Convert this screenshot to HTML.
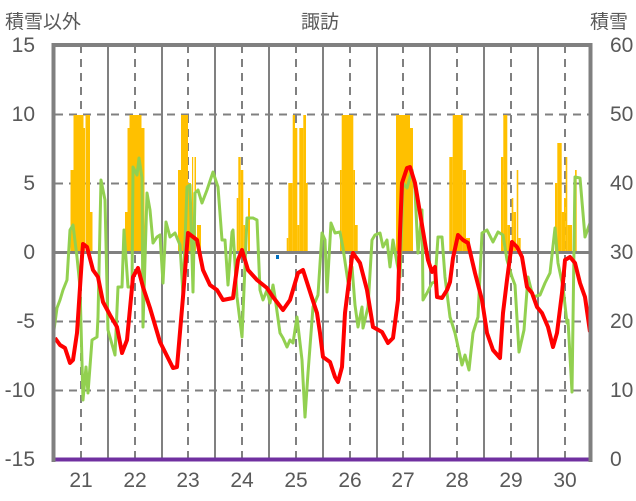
<!DOCTYPE html>
<html><head><meta charset="utf-8"><style>
html,body{margin:0;padding:0;background:#fff;}
svg{display:block;font-family:"Liberation Sans","Noto Sans CJK JP",sans-serif;}
</style></head><body>
<svg width="636" height="501" viewBox="0 0 636 501" xmlns="http://www.w3.org/2000/svg">
<rect width="636" height="501" fill="#fff"/>
<g stroke="#808080" stroke-width="2" stroke-dasharray="8,6">
<line x1="55" y1="114.5" x2="590" y2="114.5"/>
<line x1="55" y1="183.5" x2="590" y2="183.5"/>
<line x1="55" y1="321.5" x2="590" y2="321.5"/>
<line x1="55" y1="390.5" x2="590" y2="390.5"/>
<line x1="81" y1="45" x2="81" y2="459"/>
<line x1="135" y1="45" x2="135" y2="459"/>
<line x1="188" y1="45" x2="188" y2="459"/>
<line x1="242" y1="45" x2="242" y2="459"/>
<line x1="296" y1="45" x2="296" y2="459"/>
<line x1="350" y1="45" x2="350" y2="459"/>
<line x1="403" y1="45" x2="403" y2="459"/>
<line x1="457" y1="45" x2="457" y2="459"/>
<line x1="511" y1="45" x2="511" y2="459"/>
<line x1="565" y1="45" x2="565" y2="459"/>
</g>
<g stroke="#808080" stroke-width="2">
<line x1="108" y1="45" x2="108" y2="459"/>
<line x1="162" y1="45" x2="162" y2="459"/>
<line x1="215" y1="45" x2="215" y2="459"/>
<line x1="269" y1="45" x2="269" y2="459"/>
<line x1="323" y1="45" x2="323" y2="459"/>
<line x1="377" y1="45" x2="377" y2="459"/>
<line x1="430" y1="45" x2="430" y2="459"/>
<line x1="484" y1="45" x2="484" y2="459"/>
<line x1="538" y1="45" x2="538" y2="459"/>
</g>
<g fill="#ffc000">
<rect x="70.5" y="170" width="3" height="82"/>
<rect x="73.5" y="115" width="10" height="137"/>
<rect x="83.5" y="128" width="1.5" height="124"/>
<rect x="85.5" y="115" width="4.5" height="137"/>
<rect x="90" y="212" width="2.5" height="40"/>
<rect x="125" y="212" width="2.5" height="40"/>
<rect x="127.5" y="128" width="2" height="124"/>
<rect x="129.5" y="115" width="12" height="137"/>
<rect x="141.5" y="128" width="3" height="124"/>
<rect x="178" y="170" width="4" height="82"/>
<rect x="181" y="115" width="7" height="137"/>
<rect x="188" y="183" width="3" height="69"/>
<rect x="192" y="157" width="1.2" height="95"/>
<rect x="194.5" y="157" width="1.5" height="95"/>
<rect x="197" y="225" width="4" height="27"/>
<rect x="236.7" y="198" width="1.6" height="54"/>
<rect x="238.3" y="157" width="2.4" height="95"/>
<rect x="240.7" y="170" width="2.6" height="82"/>
<rect x="243.3" y="225" width="1.7" height="27"/>
<rect x="248" y="198" width="2" height="54"/>
<rect x="286.7" y="238" width="1.6" height="14"/>
<rect x="288.3" y="183" width="4.4" height="69"/>
<rect x="292.7" y="115" width="2.3" height="137"/>
<rect x="295" y="128" width="2.3" height="124"/>
<rect x="297.3" y="225" width="2" height="27"/>
<rect x="299.3" y="128" width="4" height="124"/>
<rect x="303.3" y="115" width="2.7" height="137"/>
<rect x="306" y="183" width="1.7" height="69"/>
<rect x="340" y="170" width="1.7" height="82"/>
<rect x="341.7" y="115" width="11.6" height="137"/>
<rect x="353.3" y="170" width="1.7" height="82"/>
<rect x="355" y="225" width="2.7" height="27"/>
<rect x="396" y="115" width="14" height="137"/>
<rect x="410" y="128" width="3" height="124"/>
<rect x="449.3" y="157" width="3.4" height="95"/>
<rect x="452.7" y="115" width="10" height="137"/>
<rect x="462.7" y="170" width="3.3" height="82"/>
<rect x="466" y="238" width="4" height="14"/>
<rect x="501" y="157" width="2.3" height="95"/>
<rect x="503.3" y="115" width="4" height="137"/>
<rect x="507.3" y="225" width="2.7" height="27"/>
<rect x="511.7" y="198" width="1.6" height="54"/>
<rect x="513.3" y="212" width="2.7" height="40"/>
<rect x="516.7" y="170" width="1.6" height="82"/>
<rect x="518.3" y="238" width="2.4" height="14"/>
<rect x="555" y="183" width="2.3" height="69"/>
<rect x="557.3" y="143" width="4.4" height="109"/>
<rect x="561.7" y="212" width="2.3" height="40"/>
<rect x="564" y="198" width="1.7" height="54"/>
<rect x="565.7" y="157" width="1.6" height="95"/>
<rect x="567.3" y="225" width="4.7" height="27"/>
<rect x="575" y="170" width="1.7" height="82"/>
</g>
<rect x="276" y="255" width="3" height="4" fill="#0070c0"/>
<line x1="55" y1="252.5" x2="590" y2="252.5" stroke="#808080" stroke-width="3"/>
<polyline fill="none" stroke="#92d050" stroke-width="3" stroke-linejoin="round" points="53,337 57,308 60,300 63,290 67,280 70,230 73,225 77,257 80,287 83,400 86,367 88,393 92,340 97,337 98,317 101,180 105,200 108,330 115,355 118,287 122,287 124,230 128,287 132,287 133,167 137,175 139,158 142,178 143,327 147,193 150,210 153,243 157,237 160,235 163,283 166,222 170,237 175,233 180,245 183,295 187,187 190,185 193,292 195,193 198,190 202,203 207,190 213,172 218,187 222,240 225,240 228,285 232,232 233,230 237,297 242,337 247,218 253,218 257,220 260,290 263,300 267,290 270,303 273,285 275,297 280,333 283,338 287,347 290,340 293,343 297,317 302,360 305,417 308,373 313,307 318,295 322,233 325,240 327,292 331,223 335,233 340,232 343,248 348,282 352,267 355,305 358,327 362,307 363,328 368,307 372,240 375,235 380,233 383,247 387,240 390,267 393,240 397,263 400,277 403,183 407,188 412,170 415,190 418,253 422,210 423,300 427,293 432,283 435,282 438,237 442,237 445,277 450,317 455,333 462,365 465,355 469,370 473,333 478,317 482,233 487,230 493,242 498,232 503,235 507,260 512,277 515,285 519,352 524,330 528,277 533,297 540,295 545,283 550,273 555,228 558,263 563,287 567,323 568,320 572,392 575,177 580,178 585,237 590,223"/>
<polyline fill="none" stroke="#ff0000" stroke-width="4" stroke-linejoin="round" points="55,338 60,345 65,348 70,363 73,360 77,333 82,257 83,244 87,247 93,270 98,277 103,302 110,315 117,327 122,353 127,340 133,277 138,268 143,287 150,308 160,342 168,358 173,368 177,367 183,297 188,233 197,240 203,270 210,285 217,290 223,300 233,298 238,260 242,250 248,270 257,280 267,288 273,297 283,310 290,300 298,273 303,270 312,298 317,313 320,333 323,357 330,362 335,377 338,382 342,367 345,313 352,257 353,253 360,263 367,290 373,327 382,332 388,343 393,338 398,300 400,233 402,183 407,168 410,167 415,183 420,213 425,243 428,260 432,272 435,267 437,297 442,298 447,290 450,282 453,258 458,235 463,240 468,243 475,273 482,300 487,333 493,350 500,358 503,313 507,280 512,242 517,247 522,257 527,287 532,293 537,307 542,313 548,327 553,347 557,333 562,293 565,260 570,257 575,263 580,283 585,297 590,332"/>
<line x1="55" y1="459.5" x2="590" y2="459.5" stroke="#7030a0" stroke-width="4"/>
<g stroke="#808080" stroke-width="4" fill="none">
<line x1="53.5" y1="43" x2="53.5" y2="462"/>
<line x1="51.5" y1="45" x2="592.5" y2="45"/>
<line x1="590.5" y1="43" x2="590.5" y2="462"/>
</g>
<g fill="#595959" font-size="21">
<text x="5" y="28" font-size="19">積雪以外</text>
<text x="320" y="28" font-size="19" text-anchor="middle">諏訪</text>
<text x="590" y="28" font-size="19">積雪</text>
<g text-anchor="end">
<text x="35" y="52">15</text>
<text x="35" y="121">10</text>
<text x="35" y="190">5</text>
<text x="35" y="259">0</text>
<text x="35" y="328">-5</text>
<text x="35" y="397">-10</text>
<text x="35" y="466">-15</text>
</g>
<g>
<text x="610" y="52">60</text>
<text x="610" y="121">50</text>
<text x="610" y="190">40</text>
<text x="610" y="259">30</text>
<text x="610" y="328">20</text>
<text x="610" y="397">10</text>
<text x="610" y="466">0</text>
</g>
<g text-anchor="middle">
<text x="81" y="487">21</text>
<text x="135" y="487">22</text>
<text x="188" y="487">23</text>
<text x="242" y="487">24</text>
<text x="296" y="487">25</text>
<text x="350" y="487">26</text>
<text x="403" y="487">27</text>
<text x="457" y="487">28</text>
<text x="511" y="487">29</text>
<text x="565" y="487">30</text>
</g>
</g>
</svg>
</body></html>
